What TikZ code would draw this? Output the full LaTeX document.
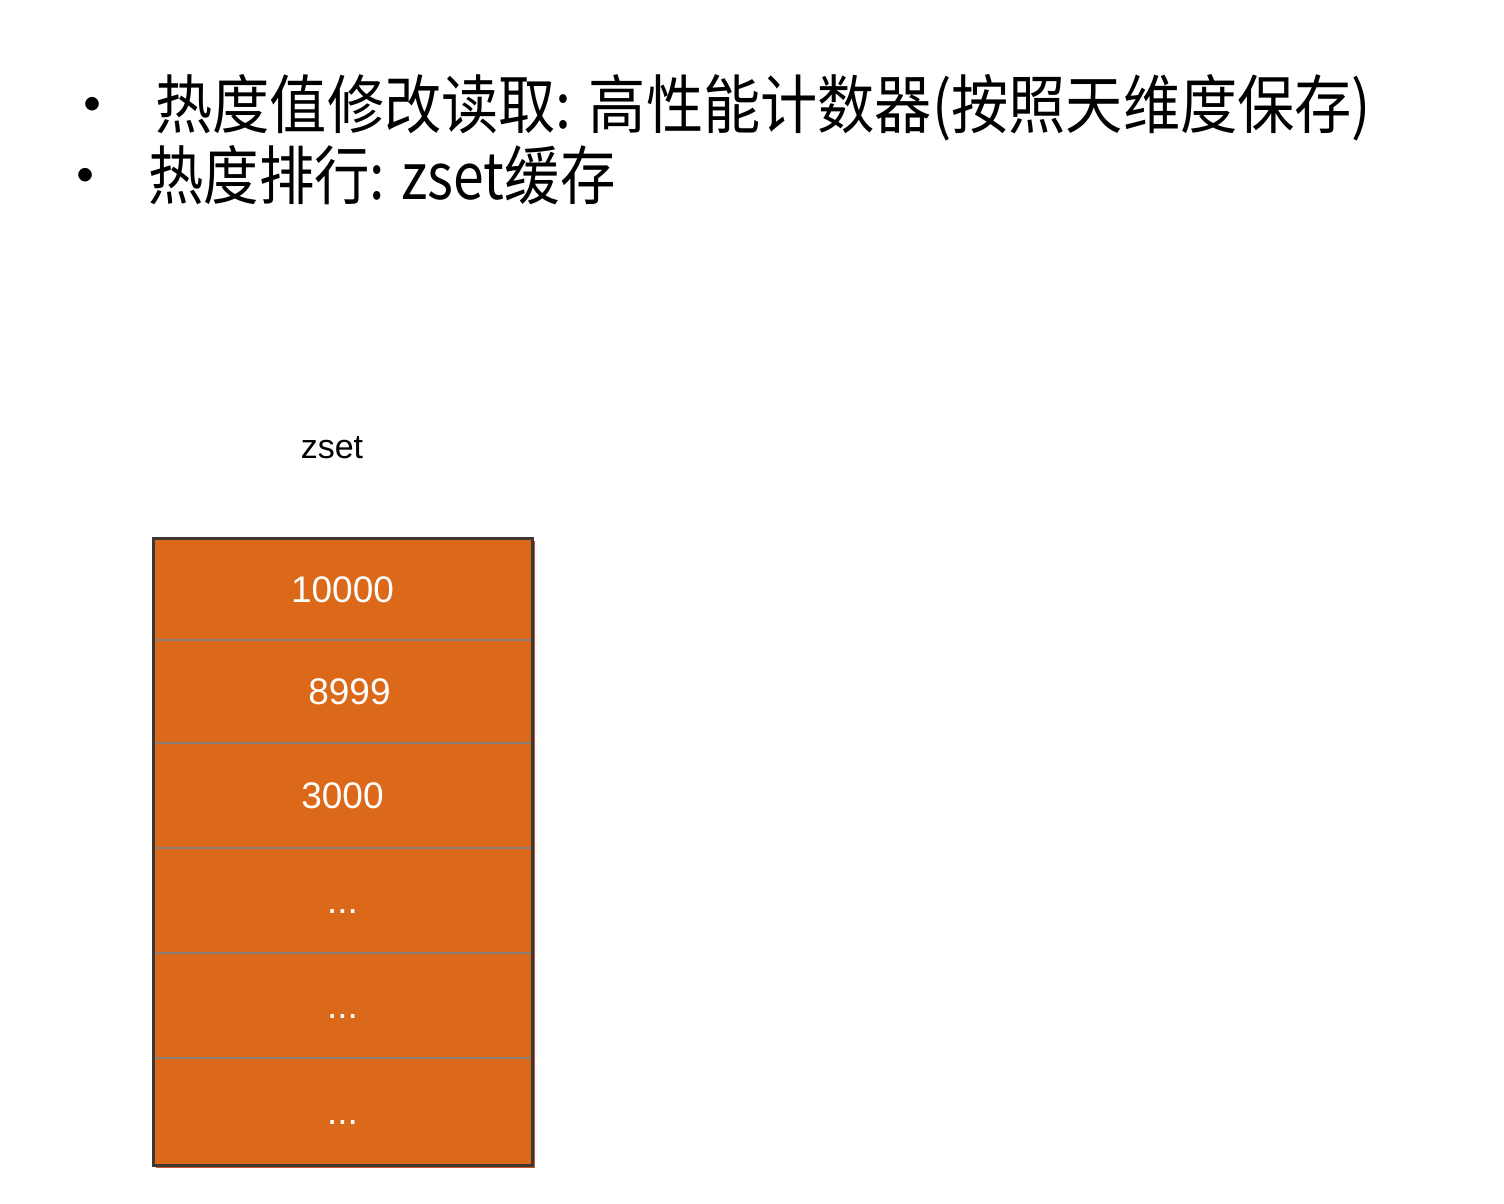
\documentclass[tikz,border=0pt]{standalone}
\usepackage{fontspec}
\setmainfont{Liberation Sans}
\newfontfamily\cjk{Noto Sans CJK SC}
\definecolor{cellorange}{RGB}{220,104,25}
\definecolor{frame}{RGB}{60,55,50}
\definecolor{divider}{RGB}{135,125,115}
\definecolor{shadowred}{RGB}{205,85,45}
\begin{document}
\begin{tikzpicture}[x=0.5pt,y=-0.5pt,
  headline/.style={anchor=base west,inner sep=0pt,font=\cjk\fontsize{32}{38}\selectfont,transform shape},
  bulletmark/.style={anchor=base,inner sep=0pt,font=\cjk\fontsize{32}{38}\selectfont},
  cell/.style={minimum width=189.5pt,minimum height=52pt,inner sep=0pt,text=white,
    font=\fontsize{18.5}{22}\selectfont,text height=13.3pt,text depth=0pt}]
\useasboundingbox (0,0) rectangle (1504,1204);
% bullets
\node[bulletmark] (b1) at (93,128) {•};
\node[headline,xscale=0.894] (t1) at (155,128) {热度值修改读取: 高性能计数器(按照天维度保存)};
\node[bulletmark] (b2) at (85,199) {•};
\node[headline,xscale=0.865] (t2) at (148,199) {热度排行: zset缓存};
% zset title
\node[font=\fontsize{17}{20}\selectfont,inner sep=0pt] (title) at (332,448) {zset};
% shadow and fill
\fill[shadowred] (156,541) rectangle (535,1168);
\fill[cellorange] (153,538) rectangle (532,1165);
% cells
\node[cell] (r1) at (342.5,589) {10000};
\node[cell] (r2) at (342.5,691.5) {\hspace*{7pt}8999};
\node[cell] (r3) at (342.5,795.5) {3000};
\node[cell] (r4) at (342.5,900.5) {...};
\node[cell] (r5) at (342.5,1005.5) {...};
\node[cell] (r6) at (342.5,1111.5) {...};
% dividers
\foreach \y in {640,743,848,953,1058}
  \draw[divider,line width=1pt] (153,\y) -- (532,\y);
\draw[frame,line width=1.5pt] (153,538) rectangle (532,1165);
\end{tikzpicture}
\end{document}
